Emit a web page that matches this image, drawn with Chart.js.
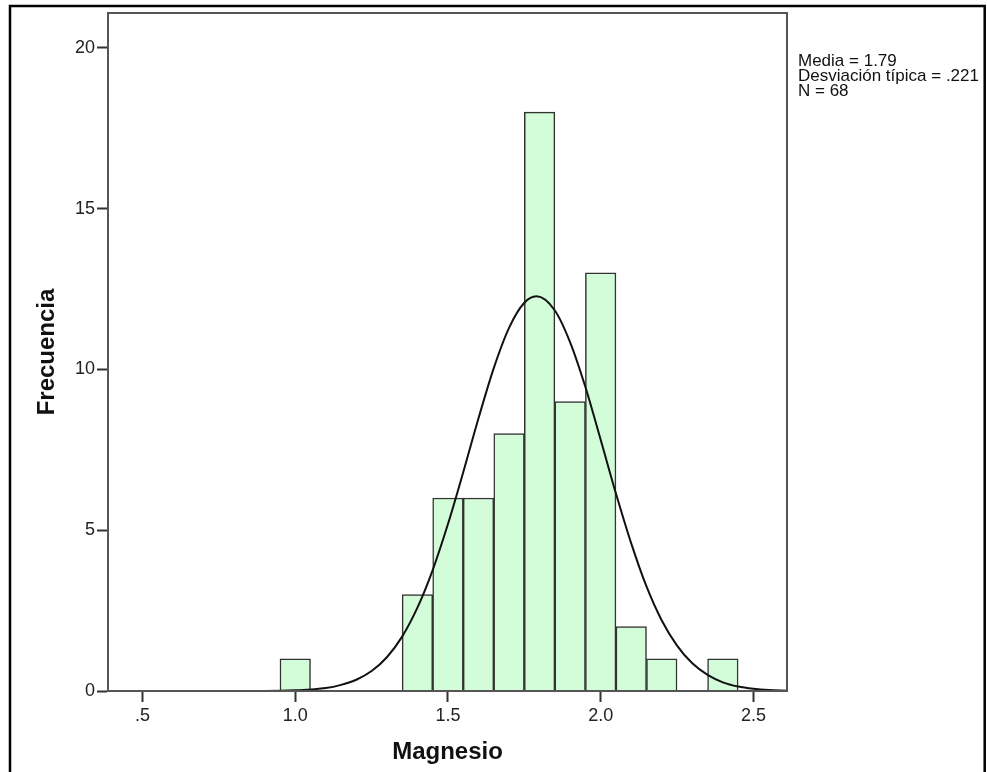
<!DOCTYPE html>
<html>
<head>
<meta charset="utf-8">
<script src="https://cdn.jsdelivr.net/npm/chart.js@4.4.1/dist/chart.umd.min.js"></script>
<style>
  html, body { margin: 0; padding: 0; background: #fff; }
  canvas { display: block; }
</style>
</head>
<body>
<canvas id="histograma" width="987" height="772"></canvas>
<script>
// Histograma de Magnesio (intervalos de 0.1)
const binCenters = [1.0, 1.4, 1.5, 1.6, 1.7, 1.8, 1.9, 2.0, 2.1, 2.2, 2.3, 2.4];
const frecuencias = [1, 3, 6, 6, 8, 18, 9, 13, 2, 1, 0, 1];

// curva normal
const curvaX = [0.387, 0.9, 1.0, 1.1, 1.15, 1.2, 1.25, 1.3, 1.35, 1.4, 1.45, 1.5, 1.55, 1.6, 1.65, 1.7, 1.75, 1.79,
                1.85, 1.9, 1.95, 2.0, 2.05, 2.1, 2.15, 2.2, 2.25, 2.3, 2.35, 2.4, 2.45, 2.5, 2.55, 2.61];
const curvaY = [0, 0.0, 0.02, 0.09, 0.19, 0.35, 0.62, 1.05, 1.69, 2.59, 3.76, 5.19, 6.8, 8.48, 10.04, 11.29, 12.07, 12.27,
                11.83, 10.84, 9.45, 7.81, 6.14, 4.59, 3.25, 2.19, 1.41, 0.86, 0.5, 0.27, 0.14, 0.07, 0.03, 0.01];

const xTicks = [0.5, 1.0, 1.5, 2.0, 2.5];
const xTickLabels = ['.5', '1.0', '1.5', '2.0', '2.5'];
const yTicks = [0, 5, 10, 15, 20];
const yTickLabels = ['0', '5', '10', '15', '20'];

const estadisticos = ['Media = 1.79', 'Desviación típica = .221', 'N = 68'];

const barras = binCenters.map((x, i) => ({ x: x, y: frecuencias[i] }));
const curva = curvaX.map((x, i) => ({ x: x, y: curvaY[i] }));

const fuente = "'Liberation Sans', Arial, sans-serif";

// marco exterior, marco del gráfico y texto de estadísticos
const extras = {
    id: 'extras',
    afterDraw(chart) {
        const ctx = chart.ctx;
        const a = chart.chartArea;
        ctx.save();
        ctx.strokeStyle = '#555';
        ctx.lineWidth = 2;
        ctx.strokeRect(a.left, a.top, a.right - a.left, a.bottom - a.top);

        ctx.fillStyle = '#111';
        ctx.font = '17px ' + fuente;
        ctx.textAlign = 'left';
        ctx.textBaseline = 'alphabetic';
        estadisticos.forEach((t, i) => ctx.fillText(t, 798, 66 + i * 15.2));

        ctx.strokeStyle = '#000';
        ctx.lineWidth = 2.5;
        ctx.strokeRect(10, 6, 974.7, 800);
        ctx.restore();
    }
};

new Chart(document.getElementById('histograma').getContext('2d'), {
    type: 'bar',
    data: {
        datasets: [{
            type: 'line',
            label: 'Normal',
            data: curva,
            borderColor: '#111',
            borderWidth: 2,
            pointRadius: 0,
            fill: false,
            cubicInterpolationMode: 'monotone',
            order: 0
        }, {
            label: 'Frecuencia',
            data: barras,
            backgroundColor: 'rgb(211, 252, 216)',
            borderColor: '#333',
            borderWidth: 1.5,
            barPercentage: 1.0,
            categoryPercentage: 1.0,
            order: 1
        }]
    },
    options: {
        responsive: false,
        animation: false,
        layout: { padding: { left: 10, top: 13, right: 200, bottom: 0 } },
        plugins: {
            legend: { display: false },
            tooltip: { enabled: false }
        },
        scales: {
            x: {
                type: 'linear',
                min: 0.387,
                max: 2.61,
                offset: false,
                afterBuildTicks: function(scale) {
                    scale.ticks = xTicks.map(v => ({ value: v }));
                },
                afterFit: function(scale) { scale.height = 81; },
                ticks: {
                    autoSkip: false,
                    maxRotation: 0,
                    padding: 3,
                    color: '#222',
                    font: { family: fuente, size: 18 },
                    callback: function(v) {
                        const i = xTicks.indexOf(v);
                        return i >= 0 ? xTickLabels[i] : '';
                    }
                },
                grid: { offset: false, drawOnChartArea: false, drawTicks: true, tickLength: 11, tickColor: '#333', tickWidth: 2 },
                border: { display: true, color: '#444', width: 2 },
                title: {
                    display: true,
                    text: 'Magnesio',
                    color: '#111',
                    font: { family: fuente, size: 24, weight: 'bold' },
                    padding: { top: 0, bottom: 5 }
                }
            },
            y: {
                min: 0,
                max: 21.08,
                afterBuildTicks: function(scale) {
                    scale.ticks = yTicks.map(v => ({ value: v }));
                },
                afterFit: function(scale) { scale.width = 98; },
                ticks: {
                    padding: 2,
                    color: '#222',
                    font: { family: fuente, size: 18 },
                    callback: function(v) {
                        const i = yTicks.indexOf(v);
                        return i >= 0 ? yTickLabels[i] : '';
                    }
                },
                grid: { drawOnChartArea: false, drawTicks: true, tickLength: 11, tickColor: '#333', tickWidth: 2 },
                border: { display: true, color: '#444', width: 2 },
                title: {
                    display: true,
                    text: 'Frecuencia',
                    color: '#111',
                    font: { family: fuente, size: 24, weight: 'bold' },
                    padding: { top: 23, bottom: 0 }
                }
            }
        }
    },
    plugins: [extras]
});
</script>
</body>
</html>
